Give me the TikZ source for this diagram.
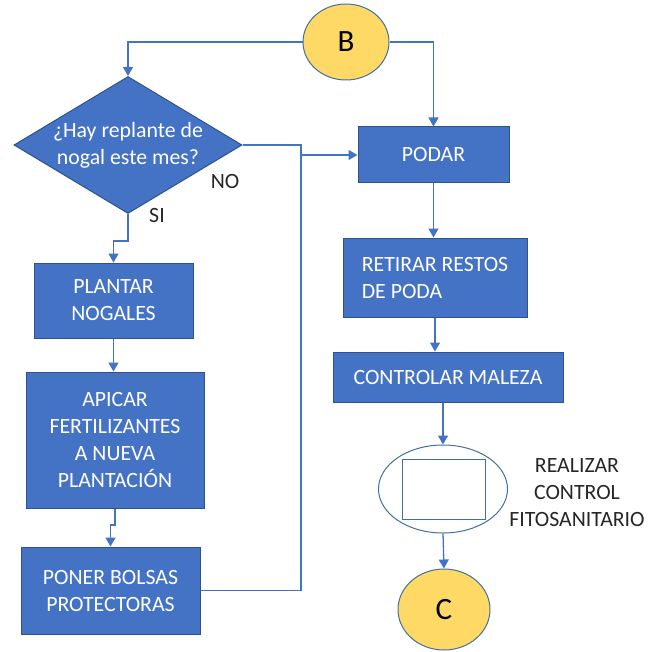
\documentclass[tikz,border=0pt]{standalone}
\usepackage{fontspec}
\setmainfont{Carlito}
\usetikzlibrary{shapes.geometric,arrows.meta}
\definecolor{boxblue}{HTML}{4472C4}
\definecolor{boxedge}{HTML}{2F528F}
\definecolor{ringedge}{HTML}{41719C}
\definecolor{sun}{HTML}{FFD966}
\definecolor{ink}{HTML}{262626}
\tikzset{
  procbox/.style={rectangle, fill=boxblue, draw=boxedge, line width=1pt,
    text=white, align=center, inner sep=0pt,
    font=\fontsize{21.8}{27}\selectfont},
  decision/.style={diamond, fill=boxblue, draw=boxedge, line width=1pt,
    inner sep=0pt},
  connector/.style={ellipse, fill=sun, draw=ringedge, line width=1pt,
    inner sep=0pt, text=black, font=\fontsize{31}{31}\selectfont},
  flow/.style={draw=boxblue, line width=1.3pt,
    -{Triangle[length=9pt,width=10pt]}},
  plainflow/.style={draw=boxblue, line width=1.3pt},
  note/.style={text=ink, align=center, inner sep=0pt,
    font=\fontsize{21.8}{27}\selectfont}
}
\begin{document}
\begin{tikzpicture}[x=1pt,y=-1pt]
\useasboundingbox (0,0) rectangle (647,652);

% start connector
\node[connector, minimum width=86pt, minimum height=76pt] (B) at (346,42) {B};

% decision
\node[decision, minimum width=228pt, minimum height=137pt,
  label={[text=white, align=center, font=\fontsize{21.8}{27}\selectfont]center:{¿Hay replante de\\nogal este mes?}}]
  (q) at (128,145) {};
\node[note] (no) at (225,182) {NO};
\node[note] (si) at (157,216) {SI};

% left branch
\node[procbox, minimum width=159pt, minimum height=75pt] (plantar) at (113.5,300.5) {PLANTAR\\NOGALES};
\node[procbox, minimum width=178pt, minimum height=136pt] (apicar) at (115,440) {APICAR\\FERTILIZANTES\\A NUEVA\\PLANTACIÓN};
\node[procbox, minimum width=179pt, minimum height=87pt] (poner) at (110.5,590.5) {PONER BOLSAS\\PROTECTORAS};

% right branch
\node[procbox, minimum width=151pt, minimum height=56pt] (podar) at (433.5,155) {PODAR};
\node[procbox, minimum width=184pt, minimum height=79pt, align=left] (retirar) at (435,277.5) {RETIRAR RESTOS\\DE PODA};
\node[procbox, minimum width=230pt, minimum height=50pt] (maleza) at (448,377) {CONTROLAR MALEZA};

% phytosanitary step: ellipse with empty frame
\node[ellipse, draw=ringedge, fill=white, line width=1pt, minimum width=129pt, minimum height=88pt, inner sep=0pt] (fito) at (443,489) {};
\node[rectangle, draw=ringedge, line width=1pt, minimum width=83pt, minimum height=60pt, inner sep=0pt] (frame) at (443.5,489) {};
\node[note] (fitotxt) at (577,493) {REALIZAR\\CONTROL\\FITOSANITARIO};

% end connector
\node[connector, minimum width=92pt, minimum height=81pt] (C) at (444,609.5) {C};

% junction points
\coordinate (j) at (301,155);
\coordinate (k1) at (128,241);
\coordinate (k2) at (115,525);

% connectors
\draw[flow] (B.west) -| (q.north);
\draw[flow] (B.east) -| (podar.north);
\draw[plainflow] (q.east) -| (j);
\draw[plainflow] (poner.east) -| (j);
\draw[flow] (j) -- (j -| podar.west);
\draw[flow] (q.south) -- (k1) -| (plantar.north);
\draw[flow] (plantar.south) -- (plantar.south |- apicar.north);
\draw[flow] (apicar.south) -- (k2) -| (poner.north);
\draw[flow] (podar.south) -- (podar.south |- retirar.north);
\draw[flow] (retirar.south) -- (retirar.south |- maleza.north);
\draw[flow] (maleza.south -| fito.north) -- (fito.north);
\draw[flow] (fito.south) -- (C.north);
\end{tikzpicture}
\end{document}
